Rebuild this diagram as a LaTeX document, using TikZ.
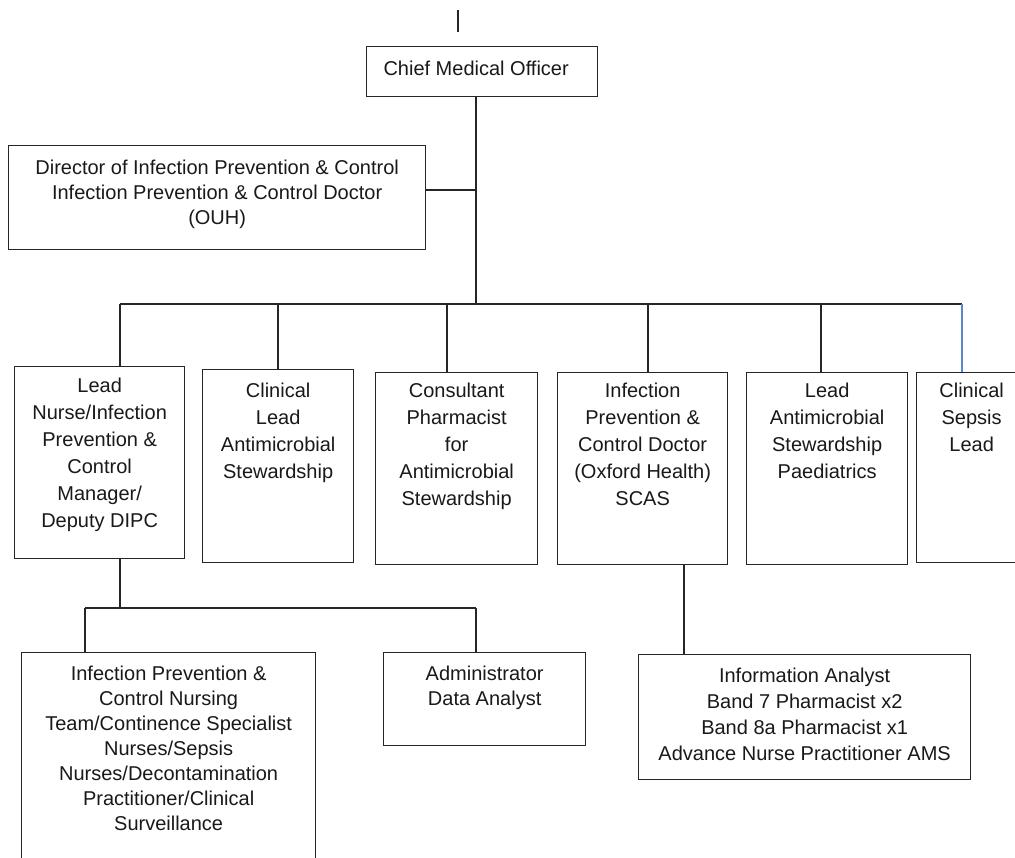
\documentclass[tikz,border=0pt]{standalone}
\usepackage{fontspec}
\setmainfont{Liberation Sans}
\definecolor{linkblue}{RGB}{91,135,209}
\begin{document}
\begin{tikzpicture}[x=1pt,y=-1pt,
  box/.style={draw=black!85, line width=1.3pt, inner sep=0pt, anchor=north west},
  txt/.style={font=\fontsize{20}{26}\selectfont, align=center, inner sep=0pt, anchor=north, text=black!90},
  txtmid/.style={txt, font=\fontsize{20}{27}\selectfont},
  conn/.style={line width=1.1pt, draw=black!85},
  blueconn/.style={line width=1.1pt, draw=linkblue}]
\clip (0,0) rectangle (1015,858);
\fill[white] (0,0) rectangle (1015,858);

% top level
\coordinate (topA) at (458,10);
\coordinate (topB) at (458,32);
\draw[conn] (topA) -- (topB);

\node[box, minimum width=231, minimum height=50] (cmo) at (366,46) {};
\node[txt] (cmot) at ([xshift=-6,yshift=-15]cmo.north) {Chief Medical Officer};

\node[box, minimum width=417, minimum height=104] (dir) at (8,145) {};
\node[txt, font=\fontsize{20}{25}\selectfont] (dirt) at ([yshift=-15]dir.north) {Director of Infection Prevention \& Control\\Infection Prevention \& Control Doctor\\(OUH)};

% trunk and bus
\coordinate (trunk) at (476,304);
\coordinate (dirj) at (476,190);
\coordinate (busL) at (120,304);
\coordinate (busR) at (962,304);
\draw[conn] (cmo.south -| trunk) -- (trunk);
\draw[conn] (dir.east |- dirj) -- (dirj);
\draw[conn] (busL) -- (busR);

% second row boxes
\node[box, minimum width=170, minimum height=192] (b1) at (14,366) {};
\node[txtmid] (b1t) at ([yshift=-12]b1.north) {Lead\\Nurse/Infection\\Prevention \&\\Control\\Manager/\\Deputy DIPC};

\node[box, minimum width=151, minimum height=193] (b2) at (202,369) {};
\node[txtmid] (b2t) at ([yshift=-14]b2.north) {Clinical\\Lead\\Antimicrobial\\Stewardship};

\node[box, minimum width=162, minimum height=192] (b3) at (375,372) {};
\node[txtmid] (b3t) at ([yshift=-11]b3.north) {Consultant\\Pharmacist\\for\\Antimicrobial\\Stewardship};

\node[box, minimum width=170, minimum height=192] (b4) at (557,372) {};
\node[txtmid] (b4t) at ([yshift=-11]b4.north) {Infection\\Prevention \&\\Control Doctor\\(Oxford Health)\\SCAS};

\node[box, minimum width=161, minimum height=192] (b5) at (746,372) {};
\node[txtmid] (b5t) at ([yshift=-11]b5.north) {Lead\\Antimicrobial\\Stewardship\\Paediatrics};

\node[box, minimum width=110, minimum height=190] (b6) at (916,372) {};
\node[txtmid] (b6t) at ([yshift=-11]b6.north) {Clinical\\Sepsis\\Lead};

% drops from bus
\draw[conn] (busL) -- (b1.north -| busL);
\coordinate (d2) at (278,304);
\coordinate (d3) at (447,304);
\coordinate (d4) at (648,304);
\coordinate (d5) at (821,304);
\draw[conn] (d2) -- (b2.north -| d2);
\draw[conn] (d3) -- (b3.north -| d3);
\draw[conn] (d4) -- (b4.north -| d4);
\draw[conn] (d5) -- (b5.north -| d5);
\draw[blueconn] (busR) -- (b6.north -| busR);

% third row boxes
\node[box, minimum width=294, minimum height=240] (b7) at (21,652) {};
\node[txt, font=\fontsize{20}{25}\selectfont] (b7t) at ([yshift=-14]b7.north) {Infection Prevention \&\\Control Nursing\\Team/Continence Specialist\\Nurses/Sepsis\\Nurses/Decontamination\\Practitioner/Clinical\\Surveillance};

\node[box, minimum width=202, minimum height=93] (b8) at (383,652) {};
\node[txt, font=\fontsize{20}{25}\selectfont] (b8t) at ([yshift=-14]b8.north) {Administrator\\Data Analyst};

\node[box, minimum width=332, minimum height=125] (b9) at (638,654) {};
\node[txt] (b9t) at ([yshift=-14]b9.north) {Information Analyst\\Band 7 Pharmacist x2\\Band 8a Pharmacist x1\\Advance Nurse Practitioner AMS};

% lower connectors
\coordinate (j1) at (120,608);
\coordinate (jL) at (85,608);
\coordinate (jR) at (476,608);
\draw[conn] (b1.south -| j1) -- (j1);
\draw[conn] (jL) -- (jR);
\draw[conn] (jL) -- (b7.north -| jL);
\draw[conn] (jR) -- (b8.north -| jR);
\coordinate (d9) at (684,600);
\draw[conn] (b4.south -| d9) -- (b9.north -| d9);
\end{tikzpicture}
\end{document}
